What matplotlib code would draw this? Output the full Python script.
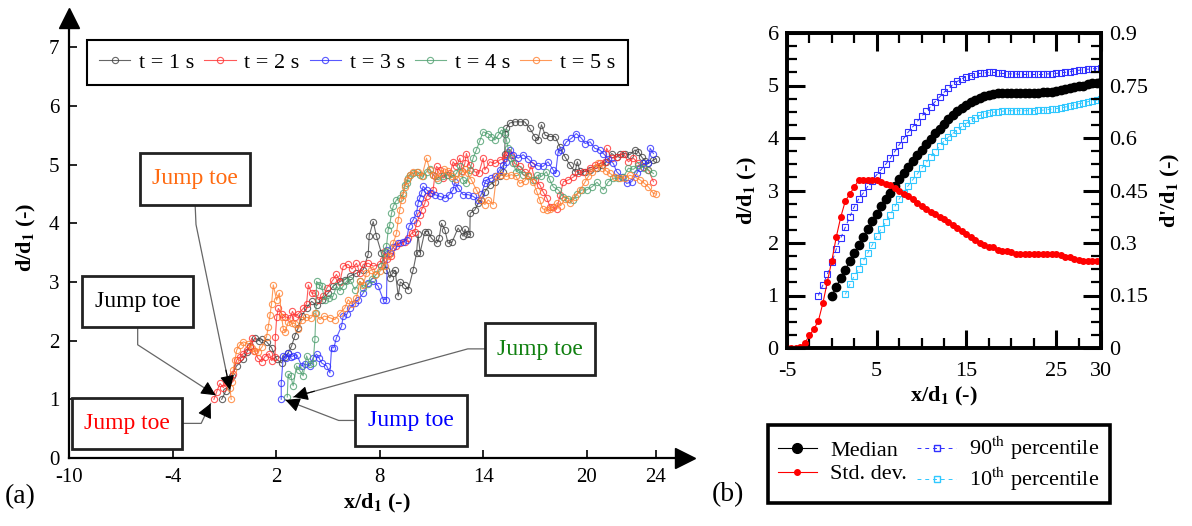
import numpy as np
import matplotlib
matplotlib.use('Agg')
import matplotlib.pyplot as plt
from matplotlib.patches import Rectangle
from matplotlib.lines import Line2D
from matplotlib.ticker import MultipleLocator, FuncFormatter

plt.rcParams['font.family'] = ['Liberation Serif', 'DejaVu Serif']
plt.rcParams['mathtext.fontset'] = 'stix'
plt.rcParams['axes.unicode_minus'] = False

# ---------------- Panel (a) data: instantaneous free-surface profiles ----------------
t1_x = [-1.15, -0.9, -0.58, -0.29, 0.1, 0.3, 0.49, 0.78, 1.0, 1.16, 1.45, 1.74, 2.03, 2.32, 2.5, 2.7, 2.9, 3.09,
        3.28, 3.48, 3.77, 4.06, 4.35, 4.64, 5.02, 5.31, 5.7, 5.99, 6.28, 6.66, 7.05, 7.34, 7.4, 7.63, 7.82, 8.11,
        8.4, 8.59, 8.75, 8.9, 9.08, 9.2, 9.45, 9.66, 9.95, 10.14, 10.23, 10.35, 10.62, 10.8, 11.0, 11.3, 11.45,
        11.59, 11.78, 11.97, 12.2, 12.55, 12.84, 12.95, 13.05, 13.23, 13.25, 13.52, 13.71, 13.9, 14.1, 14.39,
        14.68, 14.96, 15.16, 15.25, 15.28, 15.35, 15.54, 15.83, 16.12, 16.41, 16.7, 16.99, 17.18, 17.38, 17.6,
        17.9, 18.17, 18.46, 18.75, 19.04, 19.33, 19.46, 19.6, 19.9, 20.2, 20.58, 20.88, 21.15, 21.45, 21.74,
        21.95, 22.2, 22.5, 22.8, 23.0, 23.19, 23.4, 23.58, 23.87, 24.0]
t1_y = [1.0, 1.15, 1.4, 1.57, 1.68, 1.8, 1.91, 2.05, 2.0, 2.02, 1.98, 1.88, 1.68, 1.62, 1.72, 1.79, 1.91, 2.08,
        2.22, 2.42, 2.56, 2.67, 2.6, 2.7, 2.81, 2.93, 3.01, 3.04, 3.1, 3.15, 3.21, 3.47, 3.79, 4.03, 3.78, 3.49,
        3.21, 3.07, 3.15, 3.2, 2.76, 3.0, 2.95, 2.87, 3.21, 3.49, 3.81, 3.5, 3.86, 3.86, 3.75, 3.66, 3.75,
        4.0, 3.89, 3.66, 3.68, 3.92, 3.78, 3.9, 3.82, 3.81, 4.17, 4.23, 4.34, 4.4, 4.54, 4.66,
        4.71, 4.8, 4.88, 5.19, 5.53, 5.62, 5.71, 5.73, 5.73, 5.73, 5.62, 5.48, 5.42, 5.68, 5.5,
        5.48, 5.48, 5.3, 5.13, 4.99, 4.88, 5.05, 4.9, 4.88, 4.91, 4.94, 4.99, 5.05, 5.19, 5.13,
        5.18, 5.19, 5.17, 5.25, 5.22, 5.13, 5.06, 5.02, 5.08, 5.1]

t2_x = [-1.6, -1.44, -1.25, -1.05, -0.86, -0.65, -0.48, -0.28, -0.1, 0.1, 0.3, 0.49, 0.58, 0.75, 0.95, 1.17,
        1.36, 1.6, 1.75, 1.94, 1.96, 2.04, 2.13, 2.32, 2.52, 2.81, 2.95, 3.1, 3.29, 3.58, 3.77, 3.87, 4.06,
        4.25, 4.45, 4.73, 4.95, 5.31, 5.5, 5.7, 5.89, 6.18, 6.4, 6.66, 6.86, 7.05, 7.34, 7.63, 8.01, 8.21, 8.3,
        8.45, 8.69, 8.98, 9.17, 9.46, 9.66, 9.85, 10.04, 10.14, 10.33, 10.43, 10.62, 10.72, 10.91, 11.1, 11.2,
        11.3, 11.49, 11.68, 11.88, 12.1, 12.26, 12.45, 12.65, 12.8, 12.94, 13.03, 13.23, 13.52, 13.75, 14.0,
        14.1, 14.39, 14.68, 14.96, 15.25, 15.35, 15.45, 15.64, 15.83, 16.12, 16.41, 16.6, 16.8, 16.99, 17.28,
        17.47, 17.69, 17.88, 18.07, 18.27, 18.46, 18.65, 18.94, 19.23, 19.52, 19.81, 20.2, 20.49, 20.78,
        21.07, 21.16, 21.45, 21.74, 22.13, 22.42, 22.71, 23.0, 23.29, 23.58, 23.87]
t2_y = [1.0, 1.13, 1.27, 1.2, 1.3, 1.35, 1.44, 1.67, 1.72, 1.78, 1.84, 1.9, 2.04, 1.82, 1.7, 1.64,
        1.73, 1.78, 1.66, 1.73, 2.07, 2.41, 2.55, 2.46, 2.41, 2.38, 2.5, 2.41, 2.46, 2.55, 2.63, 2.95, 2.81,
        2.81, 2.7, 2.76, 2.9, 3.04, 3.13, 3.0, 3.27, 3.3, 3.22, 3.32, 3.15, 3.3, 3.32, 3.27, 3.3, 3.38, 3.52,
        3.4, 3.44, 3.61, 3.66, 3.69, 3.75, 3.83, 3.86, 4.0, 4.14, 4.23, 4.34, 4.46, 4.51, 4.57, 4.8,
        4.97, 4.91, 4.77, 4.83, 4.85, 5.05, 4.97, 5.11, 4.9, 5.02, 5.19, 4.99, 4.88, 4.85, 5.11,
        4.91, 5.05, 5.02, 5.08, 5.11, 5.17, 5.22, 5.17, 5.02, 4.97, 4.88, 4.83, 4.99, 4.74, 4.66,
        4.54, 4.43, 4.28, 4.27, 4.25, 4.48, 4.71, 4.74, 4.79, 4.85, 4.88, 4.94, 4.99, 5.02,
        5.05, 5.28, 5.11, 5.13, 5.19, 5.05, 5.11, 5.02, 4.96, 4.91, 4.71]

t3_x = [2.3, 2.3, 2.42, 2.55, 2.7, 2.85, 2.99, 3.2, 3.48, 3.7, 3.96, 4.15, 4.35, 4.5, 4.64, 4.93, 5.12, 5.22,
        5.35, 5.5, 5.8, 5.89, 6.1, 6.28, 6.57, 6.76, 7.05, 7.34, 7.63, 7.92, 8.21, 8.4, 8.45, 8.59, 8.8, 9.08,
        9.37, 9.56, 9.71, 9.95, 10.14, 10.23, 10.33, 10.43, 10.52, 10.72, 11.0, 11.2, 11.49, 11.78, 12.0,
        12.26, 12.36, 12.55, 12.84, 13.13, 13.42, 13.71, 13.9, 14.1, 14.19, 14.48, 14.7, 14.96, 15.16, 15.35,
        15.54, 15.74, 16.03, 16.32, 16.6, 16.9, 17.2, 17.47, 17.76, 18.06, 18.2, 18.35, 18.54, 18.83, 19.12,
        19.4, 19.7, 19.91, 20.2, 20.47, 20.76, 20.97, 21.25, 21.55, 21.74, 22.03, 22.32, 22.61, 22.9, 23.1,
        23.29, 23.58, 23.68, 23.87]
t3_y = [1.0, 1.28, 1.74, 1.7, 1.79, 1.72, 1.74, 1.76, 1.57, 1.6, 1.57, 1.71, 1.77, 1.7, 1.62, 1.57, 1.45, 1.88,
        1.88, 2.05, 2.25, 2.42, 2.45, 2.56, 2.64, 2.7, 2.81, 2.98, 3.01, 2.93, 2.7, 2.7, 3.55, 3.49, 3.6, 3.66,
        3.69, 3.72, 3.95, 4.06, 4.17, 4.34, 4.43, 4.51, 4.63, 4.57, 4.51, 4.49, 4.46, 4.43, 4.48,
        4.57, 4.71, 4.6, 4.49, 4.49, 4.46, 4.4, 4.5, 4.68, 4.74, 4.77, 4.8, 4.91, 4.99, 5.05,
        5.25, 5.17, 5.11, 5.17, 5.1, 5.02, 4.98, 4.97, 5.05, 4.91, 4.85, 5.22, 5.25, 5.39, 5.45,
        5.53, 5.45, 5.36, 5.39, 5.28, 5.25, 5.19, 5.1, 5.02, 4.88, 4.79, 4.68, 4.71, 4.85, 4.95,
        5.02, 5.02, 5.28, 5.19]

t4_x = [2.65, 2.7, 2.85, 2.99, 3.19, 3.35, 3.57, 3.77, 3.95, 4.15, 4.25, 4.31, 4.35, 4.5, 4.64, 4.83, 5.05,
        5.31, 5.5, 5.7, 5.89, 6.08, 6.28, 6.57, 6.86, 7.05, 7.34, 7.55, 7.82, 8.11, 8.25, 8.4, 8.5, 8.59, 8.69,
        8.79, 8.98, 9.17, 9.37, 9.46, 9.56, 9.66, 9.75, 9.95, 10.14, 10.33, 10.5, 10.72, 10.9, 11.1, 11.39,
        11.68, 11.97, 12.2, 12.45, 12.65, 12.84, 13.03, 13.23, 13.42, 13.61, 13.8, 14.0, 14.29, 14.48, 14.68,
        14.87, 15.06, 15.25, 15.35, 15.45, 15.6, 15.74, 15.93, 16.1, 16.32, 16.6, 16.9, 17.15, 17.38, 17.67,
        17.85, 18.07, 18.36, 18.65, 18.94, 19.23, 19.45, 19.71, 20.0, 20.3, 20.6, 20.97, 21.26, 21.55, 21.84,
        22.13, 22.42, 22.7, 23.0, 23.3, 23.58, 23.87]
t4_y = [1.04, 1.43, 1.4, 1.23, 1.57, 1.5, 1.4, 1.74, 1.6, 1.62, 2.02, 2.47, 3.01, 2.95, 2.93, 2.7, 2.72,
        2.76, 2.93, 2.85, 2.93, 3.01, 3.04, 2.87, 3.01, 2.9, 2.96, 3.05, 3.13, 3.27, 3.49, 3.61, 3.89, 3.98, 4.17,
        4.29, 4.4, 4.43, 4.51, 4.66, 4.68, 4.77, 4.83, 4.85, 4.88, 4.83, 4.8, 4.88, 4.93, 4.83, 4.74,
        4.8, 4.83, 4.78, 4.85, 4.97, 4.74, 4.68, 4.91, 5.11, 5.25, 5.4, 5.56, 5.53, 5.48, 5.42,
        5.5, 5.59, 5.56, 5.42, 5.28, 5.12, 5.02, 4.88, 4.92, 4.83, 4.8, 4.74, 4.82, 4.8, 4.88,
        4.75, 4.62, 4.57, 4.45, 4.42, 4.4, 4.5, 4.57, 4.57, 4.62, 4.7, 4.57, 4.71, 4.77, 4.77,
        4.79, 4.94, 4.92, 4.99, 4.95, 4.91, 4.85]

t5_x = [-0.6, -0.67, -0.57, -0.48, -0.38, -0.28, -0.09, 0.1, 0.39, 0.58, 0.78, 0.97, 1.2, 1.45, 1.55, 1.65,
        1.74, 1.84, 2.03, 2.19, 2.32, 2.42, 2.52, 2.71, 2.9, 3.1, 3.3, 3.5, 3.75, 4.0, 4.25, 4.54, 4.8, 5.12,
        5.41, 5.7, 5.99, 6.18, 6.4, 6.66, 6.86, 7.05, 7.24, 7.53, 7.75, 8.01, 8.3, 8.5, 8.65, 8.79, 8.98, 9.08,
        9.17, 9.27, 9.37, 9.47, 9.56, 9.75, 9.95, 10.23, 10.45, 10.72, 10.91, 11.1, 11.3, 11.5, 11.75, 11.95,
        12.2, 12.45, 12.7, 12.95, 13.1, 13.32, 13.61, 13.9, 14.1, 14.3, 14.58, 14.77, 15.06, 15.35, 15.64,
        15.9, 16.12, 16.4, 16.6, 16.9, 17.1, 17.28, 17.45, 17.69, 17.88, 18.07, 18.3, 18.5, 18.75, 19.04,
        19.3, 19.62, 19.9, 20.1, 20.3, 20.5, 20.68, 20.9, 21.1, 21.36, 21.65, 21.95, 22.23, 22.5, 22.8,
        23.1, 23.35, 23.58, 23.87, 24.0]
t5_y = [1.0, 1.19, 1.3, 1.5, 1.67, 1.84, 1.93, 1.98, 1.95, 1.87, 1.83, 1.81, 1.9, 2.07, 2.24, 2.44,
        2.63, 2.95, 2.69, 2.81, 2.41, 2.2, 2.15, 2.32, 2.3, 2.29, 2.2, 2.35, 2.4, 2.38, 2.47, 2.36, 2.42, 2.39,
        2.36, 2.47, 2.56, 2.7, 2.62, 2.73, 3.01, 2.95, 3.15, 3.21, 3.12, 3.18, 3.27, 3.44, 3.5, 3.66, 3.83, 4.06,
        4.23, 4.4, 4.49, 4.62, 4.74, 4.83, 4.88, 4.88, 4.8, 5.11, 4.91, 4.82, 4.77, 4.85, 4.93, 4.9,
        4.8, 4.75, 4.85, 4.92, 4.85, 4.74, 4.57, 4.4, 4.32, 4.4, 4.32, 4.8, 4.83, 4.8, 4.83,
        4.8, 4.68, 4.72, 4.82, 4.71, 4.55, 4.4, 4.25, 4.22, 4.25, 4.27, 4.35, 4.3, 4.42, 4.34,
        4.45, 4.57, 4.7, 4.8, 4.88, 4.95, 5.02, 4.95, 4.9, 4.85, 4.79, 4.78, 4.77, 4.82, 4.79,
        4.74, 4.68, 4.62, 4.51, 4.5]

series_labels = ['t = 1 s', 't = 2 s', 't = 3 s', 't = 4 s', 't = 5 s']
series_colors = ['#404040', '#ff3030', '#3030ff', '#4fa070', '#ff8030']

# "Jump toe" call-outs: text, colour, box (x0, x1, y0, y1), leader polyline (data units)
toe_texts = ['Jump toe'] * 5
toe_colors = ['#ff6a10', 'black', '#ff0000', '#108010', '#0000ff']
toe_boxes = [(-5.9, 0.5, 4.32, 5.2), (-9.23, -2.81, 2.24, 3.11), (-9.82, -3.45, 0.16, 1.03),
             (14.1, 20.5, 1.41, 2.30), (6.6, 13.04, 0.2, 1.08)]
toe_paths = [[(-2.69, 4.32), (-2.64, 3.98), (-0.67, 1.16)],
             [(-6.02, 2.24), (-6.02, 1.93), (-1.5, 1.07)],
             [(-3.45, 0.59), (-2.34, 0.59), (-1.79, 0.93)],
             [(14.1, 1.86), (13.11, 1.86), (3.01, 1.04)],
             [(6.6, 0.64), (5.63, 0.64), (2.54, 0.99)]]

# ---------------- Panel (b) data: statistics ----------------
med_x0, p90_x0, p10_x0, std_x0, step = 0.0, -1.5, 1.5, -5.0, 0.5
median_y = [1.00, 1.17, 1.33, 1.49, 1.65, 1.81, 1.96, 2.12, 2.27, 2.42, 2.56, 2.70, 2.83, 2.96, 3.09, 3.21,
            3.33, 3.45, 3.56, 3.67, 3.78, 3.89, 3.99, 4.09, 4.18, 4.27, 4.36, 4.44, 4.51, 4.57, 4.62, 4.68,
            4.73, 4.77, 4.80, 4.82, 4.84, 4.85, 4.85, 4.86, 4.86, 4.86, 4.85, 4.85, 4.85, 4.86, 4.86, 4.87,
            4.87, 4.88, 4.89, 4.91, 4.93, 4.95, 4.97, 4.99, 5.00, 5.02, 5.04, 5.05, 5.07]
p90_y = [1.00, 1.20, 1.41, 1.63, 1.89, 2.10, 2.30, 2.50, 2.69, 2.84, 2.95, 3.08, 3.19, 3.30, 3.40, 3.50,
         3.61, 3.74, 3.87, 3.99, 4.11, 4.21, 4.31, 4.41, 4.51, 4.60, 4.69, 4.78, 4.87, 4.95, 5.02, 5.08,
         5.13, 5.17, 5.19, 5.21, 5.23, 5.24, 5.25, 5.25, 5.24, 5.23, 5.22, 5.22, 5.22, 5.21, 5.21, 5.21,
         5.21, 5.21, 5.21, 5.22, 5.22, 5.23, 5.24, 5.25, 5.26, 5.28, 5.29, 5.30, 5.31, 5.32, 5.32, 5.33]
p10_y = [1.02, 1.21, 1.37, 1.51, 1.66, 1.81, 1.96, 2.13, 2.27, 2.40, 2.54, 2.69, 2.84, 2.96, 3.09, 3.20,
         3.31, 3.42, 3.53, 3.64, 3.74, 3.84, 3.94, 4.02, 4.09, 4.16, 4.22, 4.28, 4.34, 4.39, 4.43, 4.46,
         4.48, 4.49, 4.50, 4.51, 4.52, 4.52, 4.52, 4.52, 4.52, 4.52, 4.52, 4.53, 4.53, 4.54, 4.55, 4.56,
         4.57, 4.59, 4.61, 4.63, 4.65, 4.67, 4.69, 4.71, 4.72, 4.74]
std_y = [0.0, 0.0, 0.0, 0.003, 0.015, 0.036, 0.054, 0.078, 0.128, 0.19, 0.25, 0.318, 0.375, 0.42, 0.44, 0.46,
         0.48, 0.48, 0.48, 0.48, 0.48, 0.475, 0.47, 0.465, 0.458, 0.45, 0.44, 0.435, 0.425, 0.415, 0.405,
         0.398, 0.39, 0.383, 0.375, 0.368, 0.36, 0.352, 0.343, 0.335, 0.327, 0.318, 0.308, 0.3, 0.293, 0.29,
         0.29, 0.28, 0.278, 0.278, 0.275, 0.27, 0.27, 0.27, 0.27, 0.27, 0.27, 0.27, 0.27, 0.27, 0.27, 0.265,
         0.26, 0.26, 0.255, 0.252, 0.25, 0.25, 0.25, 0.25, 0.25]

W, H = 1192, 526
fig = plt.figure(figsize=(W / 100, H / 100), dpi=100)


def px_box(l, t, r, b):
    return [l / W, 1 - b / H, (r - l) / W, (b - t) / H]


# ================= Panel (a) =================
ax = fig.add_axes(px_box(69, 18, 685, 458))
ax.set_xlim(-10, 25.7)
ax.set_ylim(0, 7.5)
data_a = [(t1_x, t1_y), (t2_x, t2_y), (t3_x, t3_y), (t4_x, t4_y), (t5_x, t5_y)]
for (xs, ys), c, lab in zip(data_a, series_colors, series_labels):
    ax.plot(xs, ys, '-o', color=c, lw=0.8, ms=4.5, mfc='none', mew=0.8, alpha=0.8, label=lab)

for sp in ['top', 'right']:
    ax.spines[sp].set_visible(False)
for sp in ['left', 'bottom']:
    ax.spines[sp].set_linewidth(1.6)
ax.plot(1, 0, '>', color='black', ms=14, transform=ax.transAxes, clip_on=False)
ax.plot(0, 1, '^', color='black', ms=14, transform=ax.transAxes, clip_on=False)

ax.set_xticks([-10, -4, 2, 8, 14, 20, 24])
ax.set_yticks(range(0, 8))
ax.tick_params(direction='in', length=6, width=1.2, labelsize=15)
ax.tick_params(axis='x', pad=7)
ax.tick_params(axis='y', pad=7)
ax.set_xlabel('x/d$_\\mathbf{1}$ (-)', fontsize=16, fontweight='bold', labelpad=4)
ax.set_ylabel('d/d$_\\mathbf{1}$ (-)', fontsize=16, fontweight='bold', labelpad=8)

leg = ax.legend(loc='upper left', bbox_to_anchor=((87 - 69) / 616, (458 - 40) / 440), ncol=5,
                frameon=True, fancybox=False, edgecolor='black', fontsize=16, handlelength=1.4,
                columnspacing=0.45, handletextpad=0.4, borderpad=0.55, borderaxespad=0, framealpha=1)
leg.get_frame().set_linewidth(1.5)

for txt, col, (x0, x1, y0, y1), path in zip(toe_texts, toe_colors, toe_boxes, toe_paths):
    ax.add_patch(Rectangle((x0, y0), x1 - x0, y1 - y0, fill=True, facecolor='white',
                           edgecolor='#222222', lw=2.0, zorder=5))
    ax.text((x0 + x1) / 2, (y0 + y1) / 2, txt, color=col, fontsize=17, ha='center', va='center', zorder=6)
    px_, py_ = zip(*path)
    ax.plot(px_, py_, color='#666666', lw=0.9, zorder=4)
    (xa, ya), (xb, yb) = path[-2], path[-1]
    fx = xb - 0.12 * (xb - xa)
    fy = yb - 0.12 * (yb - ya)
    ax.annotate('', xy=(xb, yb), xytext=(fx, fy),
                arrowprops=dict(arrowstyle='-|>', color='black', lw=0.8, mutation_scale=22,
                                shrinkA=0, shrinkB=0), zorder=7)

fig.text(5 / W, 1 - 497 / H, '(a)', fontsize=20, va='center', ha='left')

# ================= Panel (b) =================
ax2 = fig.add_axes(px_box(787, 33, 1101, 348))
ax2.set_xlim(-5, 30)
ax2.set_ylim(0, 6)
med_x = med_x0 + step * np.arange(len(median_y))
p90_x = p90_x0 + step * np.arange(len(p90_y))
p10_x = p10_x0 + step * np.arange(len(p10_y))
std_x = std_x0 + step * np.arange(len(std_y))

ax2.plot(p90_x, p90_y, ls=(0, (4, 4)), lw=0.7, marker='s', ms=5, mfc='none', mew=0.8, color='#3030ff')
ax2.plot(p10_x, p10_y, ls=(0, (4, 4)), lw=0.7, marker='s', ms=5, mfc='none', mew=0.8, color='#30c8ff')
ax2.plot(med_x, median_y, '-o', color='black', lw=0.8, ms=6)

ax3 = ax2.twinx()
ax3.set_ylim(0, 0.9)
ax3.plot(std_x, std_y, '-o', color='#ff0000', lw=0.8, ms=4)

for a in (ax2, ax3):
    for sp in a.spines.values():
        sp.set_linewidth(2.6)
ax2.set_xticks([-5, 5, 15, 25, 30])
ax2.xaxis.set_minor_locator(MultipleLocator(2.5))
ax2.yaxis.set_major_locator(MultipleLocator(1))
ax2.yaxis.set_minor_locator(MultipleLocator(0.25))
ax3.yaxis.set_major_locator(MultipleLocator(0.15))
ax3.yaxis.set_minor_locator(MultipleLocator(0.0375))
ax3.yaxis.set_major_formatter(FuncFormatter(lambda v, p: '%g' % round(v, 2)))
ax2.tick_params(which='major', direction='in', length=13, width=2.2, top=True, right=False,
                labelsize=16, pad=6)
ax2.tick_params(axis='x', which='major', pad=10)
ax2.tick_params(which='minor', direction='in', length=7, width=1.6, top=True, right=False)
ax3.tick_params(which='major', direction='in', length=13, width=2.2, labelsize=16, pad=6)
ax3.tick_params(which='minor', direction='in', length=7, width=1.6)

ax2.set_xlabel('x/d$_\\mathbf{1}$ (-)', fontsize=16, fontweight='bold', labelpad=3)
ax2.set_ylabel('d/d$_\\mathbf{1}$ (-)', fontsize=16, fontweight='bold', labelpad=6)
ax3.set_ylabel("d'/d$_\\mathbf{1}$ (-)", fontsize=16, fontweight='bold', rotation=90, labelpad=8)

handles = [Line2D([], [], color='black', lw=0.8, marker='o', ms=7),
           Line2D([], [], color='#ff0000', lw=0.8, marker='o', ms=4),
           Line2D([], [], color='#3030ff', lw=0.7, ls=(0, (4, 4)), marker='s', ms=5, mfc='none'),
           Line2D([], [], color='#30c8ff', lw=0.7, ls=(0, (4, 4)), marker='s', ms=5, mfc='none')]
labels = ['Median', 'Std. dev.', '90$^{\\rm th}$ percentile', '10$^{\\rm th}$ percentile']
leg2 = fig.legend(handles, labels, loc='upper left', bbox_to_anchor=(768 / W, 1 - 425 / H), ncol=2,
                  frameon=True, fancybox=False, edgecolor='black', fontsize=16, handlelength=1.75,
                  columnspacing=0.45, handletextpad=0.6, borderpad=0.45, labelspacing=0.15,
                  borderaxespad=0, framealpha=1)
leg2.get_frame().set_linewidth(2.6)

fig.text(712 / W, 1 - 495 / H, '(b)', fontsize=20, va='center', ha='left')

fig.savefig('out.png', dpi=100)
